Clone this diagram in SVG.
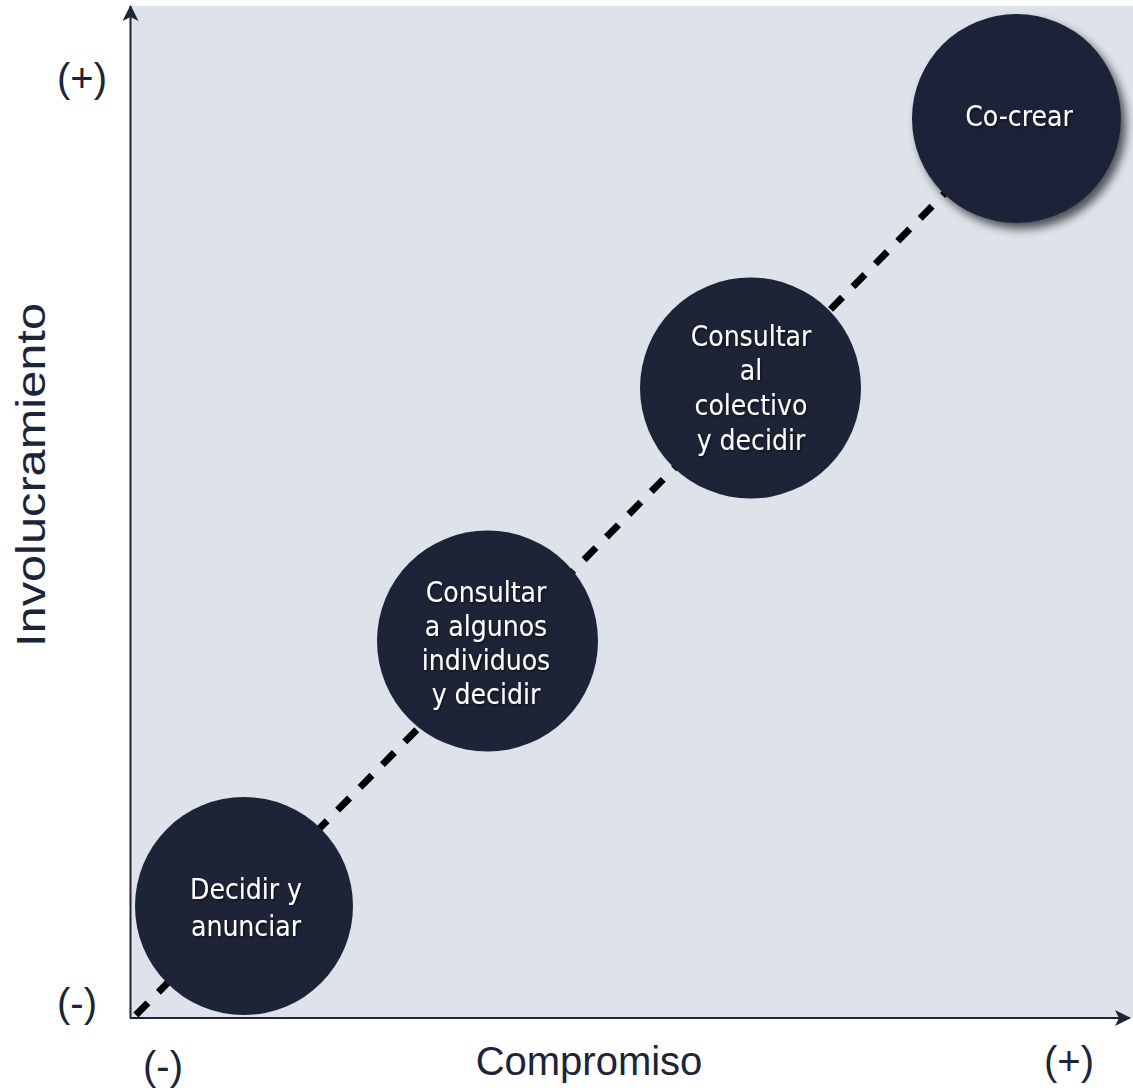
<svg xmlns="http://www.w3.org/2000/svg" width="1133" height="1091" viewBox="0 0 1133 1091">
  <defs>
    <style>
      .axis { stroke: #1E2437; stroke-width: 2; fill: none; }
      .node { fill: #1E2437; }
      .label { font-family: "DejaVu Sans Condensed", "DejaVu Sans", sans-serif; font-size: 28px; fill: #FFFFFF; text-anchor: middle; filter: url(#txtShadow); }
      .axisText { font-family: "Liberation Sans", Arial, sans-serif; font-size: 40px; fill: #1E2437; }
      .trend { stroke: #000000; stroke-width: 7; stroke-dasharray: 17 14.94; fill: none; }
    </style>
    <marker id="arrow" viewBox="0 0 16 16" refX="15" refY="8" markerWidth="16" markerHeight="16" markerUnits="userSpaceOnUse" orient="auto">
      <path d="M0,0 L16,8 L0,16 L4,8 Z" fill="#1E2437"/>
    </marker>
    <filter id="txtShadow" x="-10%" y="-20%" width="130%" height="150%">
      <feDropShadow dx="1.2" dy="1.5" stdDeviation="0.8" flood-color="#000000" flood-opacity="0.55"/>
    </filter>
    <filter id="nodeShadow" x="-20%" y="-20%" width="150%" height="150%">
      <feDropShadow dx="5" dy="6" stdDeviation="5" flood-color="#000000" flood-opacity="0.65"/>
    </filter>
  </defs>

  <!-- plot area -->
  <rect x="131" y="6" width="1002" height="1012" fill="#DEE2EA"/>

  <!-- axes -->
  <g id="axes">
    <line class="axis" x1="130.5" y1="1018" x2="130.5" y2="6" marker-end="url(#arrow)"/>
    <line class="axis" x1="130" y1="1018" x2="1130" y2="1018" marker-end="url(#arrow)"/>
  </g>

  <!-- axis labels -->
  <g id="axis-labels">
    <text class="axisText" x="57" y="92">(+)</text>
    <text class="axisText" x="57" y="1017">(-)</text>
    <text class="axisText" x="143" y="1080">(-)</text>
    <text class="axisText" x="1044" y="1075">(+)</text>
    <text class="axisText" x="589" y="1075" text-anchor="middle">Compromiso</text>
    <text class="axisText" transform="translate(45,475) rotate(-90)" text-anchor="middle" textLength="344" lengthAdjust="spacingAndGlyphs">Involucramiento</text>
  </g>

  <!-- dashed trend connector -->
  <g id="connectors">
    <line class="trend" x1="135.95" y1="1015" x2="1016" y2="121"/>
  </g>

  <!-- nodes -->
  <g id="node-decidir">
    <circle class="node" cx="244" cy="906" r="109"/>
    <text class="label" x="246" y="899">Decidir y</text>
    <text class="label" x="246" y="936">anunciar</text>
  </g>

  <g id="node-consultar-algunos">
    <circle class="node" cx="487.5" cy="641" r="110.5"/>
    <text class="label" x="486" y="602">Consultar</text>
    <text class="label" x="486" y="636">a algunos</text>
    <text class="label" x="486" y="670">individuos</text>
    <text class="label" x="486" y="704">y decidir</text>
  </g>

  <g id="node-consultar-colectivo">
    <circle class="node" cx="750.5" cy="388" r="110.5"/>
    <text class="label" x="751" y="346">Consultar</text>
    <text class="label" x="751" y="380">al</text>
    <text class="label" x="751" y="415">colectivo</text>
    <text class="label" x="751" y="450">y decidir</text>
  </g>

  <g id="node-cocrear">
    <circle class="node" cx="1016.5" cy="118.5" r="104.5" filter="url(#nodeShadow)"/>
    <text class="label" x="1019" y="126">Co-crear</text>
  </g>
</svg>
